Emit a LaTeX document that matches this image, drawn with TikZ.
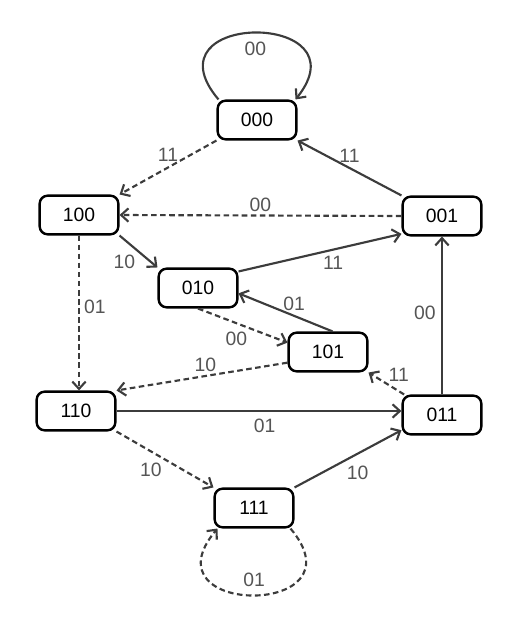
\documentclass[tikz,border=0pt]{standalone}
\usepackage{fontspec}
\setmainfont{Liberation Sans}
\usepackage{tikz}
\usetikzlibrary{arrows.meta, positioning}
\definecolor{linie}{RGB}{60,60,60}
\definecolor{beschr}{RGB}{85,85,85}

\begin{document}
\begin{tikzpicture}[zustand/.style={draw=black, line width=1.8pt, rounded corners=6pt, minimum width=59pt, minimum height=29pt, inner sep=0pt},
		lbl/.style={text=beschr, inner sep=1pt},
		kante/.style={->, draw=linie, line width=1.6pt},
		gestr/.style={kante, dash pattern=on 4.2pt off 2.6pt},
		x=0.75pt, y=-0.75pt,
		>={Straight Barb[length=5.5pt,width=10pt]},   %Voreinstellung fuer Pfeilspitzen
		font=\fontsize{14.5}{16}\selectfont]
		%Bildbereich
		\useasboundingbox (0,0) rectangle (515,625);
		% Zustaende zeichnen
		\foreach \n/\x/\y in {000/257/120, 100/79/215, 001/442/216, 010/198/288,
			101/328/352, 110/76/411, 011/442/415, 111/254/508}
			\node[zustand] (n\n) at (\x,\y) {\n};
		% Schleifen
		\draw[kante] ([xshift=1.5pt]n000.north west) .. controls +(-75,-89) and +(71,-89) .. ([xshift=-1.5pt]n000.north east)
			node[lbl, midway, below=5pt] (s00) {00};
		\draw[gestr] ([xshift=-3pt]n111.south east) .. controls +(75,89) and +(-75,89) .. ([xshift=3pt]n111.south west)
			node[lbl, midway, above=5pt] (s01) {01};
		% Uebergaenge
		\draw[kante] (n001.north west) -- (n000.south east) node[lbl, midway, above=2pt] (l1) {11};
		\draw[gestr] (n000.south west) -- (n100.north east) node[lbl, midway, above=3pt] (l2) {11};
		\draw[gestr] (n001.west) -- (n100.east) node[lbl, pos=.5, above=1pt] (l3) {00};
		\draw[kante] (n100.south east) -- (n010.north west) node[lbl, midway, below left=1pt] (l4) {10};
		\draw[kante] ([yshift=-3pt]n010.north east) -- ([yshift=2pt]n001.south west) node[lbl, pos=.58, below=3pt] (l5) {11};
		\draw[gestr] (n100.south) -- (n100.south |- n110.north) node[lbl, pos=.46, right=2pt] (l6) {01};
		\draw[kante] ([xshift=3.5pt]n101.north) -- ([yshift=-4pt]n010.east) node[lbl, pos=.41, above=2pt] (l7) {01};
		\draw[gestr] (n010.south) -- ([yshift=7pt]n101.west) node[lbl, pos=.43, below=5pt] (l8) {00};
		\draw[gestr] ([yshift=-8pt]n101.west) -- (n110.north east) node[lbl, pos=.48, above=1.5pt] (l9) {10};
		\draw[gestr] ([xshift=2pt]n011.north west) -- (n101.south east) node[lbl, midway, above right=0pt] (l10) {11};
		\draw[kante] (n011.north) -- (n001.south) node[lbl, pos=.52, left=3pt] (l11) {00};
		\draw[kante] (n110.east) -- (n110.east -| n011.west) node[lbl, pos=.52, below=4pt] (l12) {01};
		\draw[gestr] (n110.south east) -- (n111.north west) node[lbl, midway, below left=1pt] (l13) {10};
		\draw[kante] (n111.north east) -- ([yshift=4pt]n011.south west) node[lbl, pos=.45, below right=2pt] (l14) {10};
	\end{tikzpicture}
\end{document}
